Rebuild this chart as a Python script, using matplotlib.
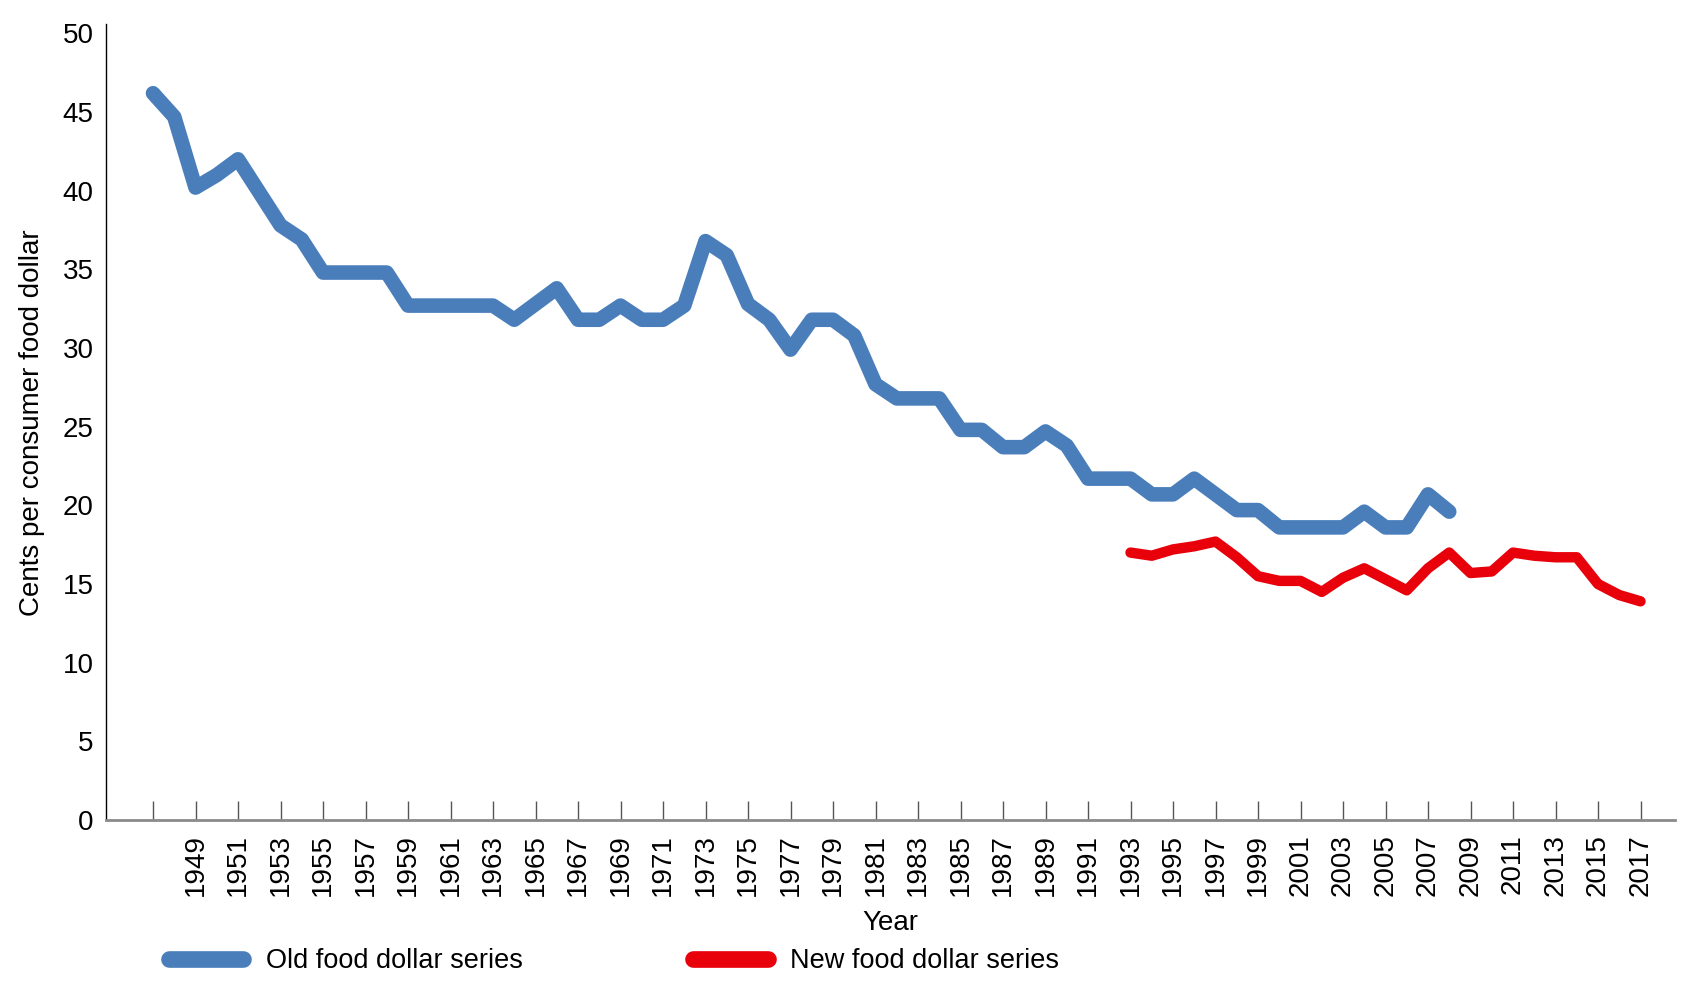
import numpy as np
import matplotlib
matplotlib.use("Agg")
import matplotlib.pyplot as plt

plt.rcParams["font.family"] = ["Liberation Sans", "DejaVu Sans"]

# ── Data (cents per consumer food dollar) ──────────────────────────────────────
old_years = np.arange(1947, 2009)
old_values = [46.2, 44.7, 40.2, 41.0, 42.0, 39.9, 37.8, 36.9, 34.8, 34.8,
              34.8, 34.8, 32.7, 32.7, 32.7, 32.7, 32.7, 31.8, 32.8, 33.8,
              31.8, 31.8, 32.7, 31.8, 31.8, 32.7, 36.8, 35.9, 32.8, 31.8,
              29.9, 31.8, 31.8, 30.8, 27.7, 26.8, 26.8, 26.8, 24.8, 24.8,
              23.7, 23.7, 24.7, 23.8, 21.7, 21.7, 21.7, 20.7, 20.7, 21.7,
              20.7, 19.7, 19.7, 18.6, 18.6, 18.6, 18.6, 19.6, 18.6, 18.6,
              20.7, 19.6]

new_years = np.arange(1993, 2018)
new_values = [17.0, 16.8, 17.2, 17.4, 17.7, 16.7, 15.5, 15.2, 15.2, 14.5,
              15.4, 16.0, 15.3, 14.6, 16.0, 17.0, 15.7, 15.8, 17.0, 16.8,
              16.7, 16.7, 15.0, 14.3, 13.9]

tick_years = list(range(1947, 2018, 2))
tick_labels = [""] + [str(y) for y in range(1949, 2018, 2)]
y_ticks = list(range(0, 51, 5))

BLUE = "#4a7ebb"
RED = "#e8000b"

# ── Figure ─────────────────────────────────────────────────────────────────────
fig = plt.figure(figsize=(17, 10), dpi=100)
ax = fig.add_axes([0.0625, 0.18, 0.9225, 0.796])

ax.plot(old_years, old_values, color=BLUE, lw=10.5, solid_capstyle="round",
        solid_joinstyle="round", label="Old food dollar series")
ax.plot(new_years, new_values, color=RED, lw=7.5, solid_capstyle="round",
        solid_joinstyle="round", label="New food dollar series")

ax.set_xlim(1944.8, 2018.6)
ax.set_ylim(0, 50.6)
ax.set_yticks(y_ticks)
ax.set_xticks(tick_years)
ax.set_xticklabels(tick_labels, rotation=90)

ax.tick_params(axis="y", length=0, pad=9, labelsize=20)
ax.tick_params(axis="x", direction="in", length=14, width=1, color="#555555",
               pad=10, labelsize=20)

for side in ("top", "right"):
    ax.spines[side].set_visible(False)
ax.spines["left"].set_color("black")
ax.spines["left"].set_linewidth(1)
ax.spines["bottom"].set_color("#8a8a8a")
ax.spines["bottom"].set_linewidth(2)

fig.text(0.019, 0.577, "Cents per consumer food dollar", rotation=90,
         ha="center", va="center", fontsize=20)
fig.text(0.524, 0.077, "Year", ha="center", va="center", fontsize=20)

handles, labels = ax.get_legend_handles_labels()
leg = fig.legend(handles, labels, loc="center left", bbox_to_anchor=(0.085, 0.039),
                 ncol=2, frameon=False, fontsize=19.5, handlelength=2.75,
                 handletextpad=0.82, columnspacing=6.3)
for h in leg.get_lines():
    h.set_linewidth(12)
    h.set_solid_capstyle("round")

fig.savefig("out.png", dpi=100)
plt.close(fig)
